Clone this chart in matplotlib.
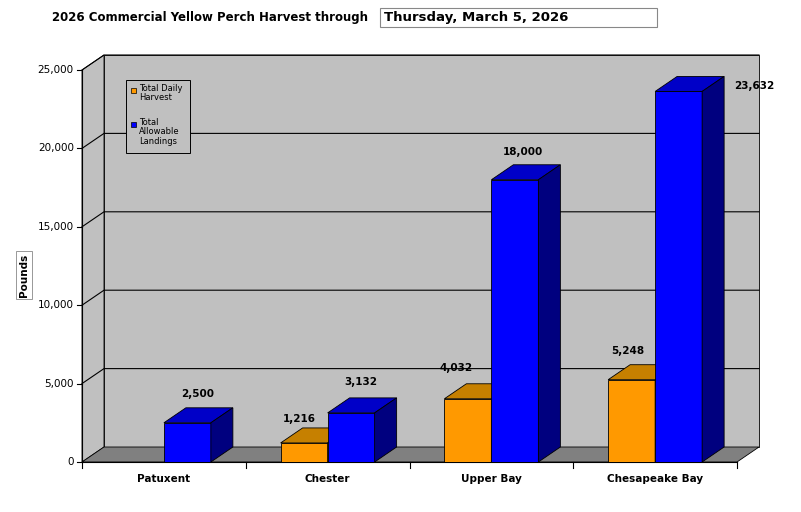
import matplotlib
matplotlib.use("Agg")
import matplotlib.pyplot as plt
from matplotlib.patches import Polygon, Rectangle

categories = ["Patuxent", "Chester", "Upper Bay", "Chesapeake Bay"]
daily_harvest = [0, 1216, 4032, 5248]
allowable = [2500, 3132, 18000, 23632]
yticks = [0, 5000, 10000, 15000, 20000, 25000]
title = "2026 Commercial Yellow Perch Harvest through"
date_text = "Thursday, March 5, 2026"

W, H = 801, 512
fig = plt.figure(figsize=(W/100, H/100), dpi=100)
fig.patch.set_facecolor("white")
ax = fig.add_axes([82/W, (H-462)/H, 655/W, 392/H])
ax.set_xlim(0, 4); ax.set_ylim(0, 25000); ax.axis("off")

PX = 1/163.75
PY = 25000/392
dx = 22*PX
dy = 15*PY
bw = 47*PX

def poly(pts, fc, z, ec="black", lw=0.6):
    ax.add_patch(Polygon(pts, closed=True, fc=fc, ec=ec, lw=lw, zorder=z, clip_on=False))

# walls
poly([(dx, dy), (4+dx, dy), (4+dx, 25000+dy), (dx, 25000+dy)], "#c0c0c0", 0)
poly([(0, 0), (dx, dy), (dx, 25000+dy), (0, 25000)], "#c0c0c0", 0)
for t in yticks[1:]:
    ax.plot([0, dx, 4+dx], [t, t+dy, t+dy], color="black", lw=0.8, zorder=1, clip_on=False)
poly([(0, 0), (4, 0), (4+dx, dy), (dx, dy)], "#808080", 1)
ax.plot([0, 4], [0, 0], color="black", lw=0.8, zorder=1, clip_on=False)
for i in range(5):
    ax.plot([i, i], [0, -400], color="black", lw=0.8, clip_on=False)
ax.plot([0, 0], [0, 25000], color="black", lw=0.8, clip_on=False)
for t in yticks:
    ax.plot([-0.03, 0], [t, t], color="black", lw=0.8, clip_on=False)
    ax.text(-0.05, t, f"{t:,}", ha="right", va="center", fontsize=7.5)

def bar3d(x0, h, front, top, side, z):
    if h <= 0:
        return
    ax.bar(x0, h, width=bw, align="edge", color=front, edgecolor="black", lw=0.6, zorder=z)
    poly([(x0, h), (x0+bw, h), (x0+bw+dx, h+dy), (x0+dx, h+dy)], top, z)
    poly([(x0+bw, 0), (x0+bw+dx, dy), (x0+bw+dx, h+dy), (x0+bw, h)], side, z)

# label offsets in pixels (x from bar centre, y above bar top)
offs_o = [(0, 0), (-5, 24), (-12, 31), (-4, 29)]
offs_b = [(10, 29), (10, 31), (8, 28), (76, 5)]
for i, c in enumerate(categories):
    cx = i + 0.5
    bar3d(cx-bw, daily_harvest[i], "#ff9900", "#c68000", "#a06000", 3+2*i)
    bar3d(cx, allowable[i], "#0000ff", "#0000c8", "#00007f", 4+2*i)
    if daily_harvest[i] > 0:
        ax.text(cx-bw/2+offs_o[i][0]*PX, daily_harvest[i]+offs_o[i][1]*PY, f"{daily_harvest[i]:,}",
                ha="center", va="center", fontsize=7.5, fontweight="bold", zorder=20)
    ax.text(cx+bw/2+offs_b[i][0]*PX, allowable[i]+offs_b[i][1]*PY, f"{allowable[i]:,}",
            ha="center", va="center", fontsize=7.5, fontweight="bold", zorder=20)
    ax.text(cx, -1100, c, ha="center", va="center", fontsize=7.5, fontweight="bold")

# legend
fig.patches.append(Rectangle((126/W, 1-153/H), 64/W, 73/H, transform=fig.transFigure,
                             fc="#c0c0c0", ec="black", lw=0.7, zorder=30))
fig.patches.append(Rectangle((131/W, 1-93/H), 5/W, 5/H, transform=fig.transFigure,
                             fc="#ff9900", ec="black", lw=0.5, zorder=31))
fig.patches.append(Rectangle((131/W, 1-127/H), 5/W, 5/H, transform=fig.transFigure,
                             fc="#0000ff", ec="black", lw=0.5, zorder=31))
fig.text(139/W, 1-84/H, "Total Daily\nHarvest", fontsize=6, va="top", linespacing=1.05, zorder=32)
fig.text(139/W, 1-118/H, "Total\nAllowable\nLandings", fontsize=6, va="top", linespacing=1.05, zorder=32)

fig.text(52/W, 1-18/H, title, fontsize=8.5, fontweight="bold", va="center")
fig.patches.append(Rectangle((380/W, 1-27/H), 277/W, 19/H, transform=fig.transFigure,
                             fc="white", ec="#888888", lw=0.8))
fig.text(384/W, 1-18/H, date_text, fontsize=9.5, fontweight="bold", va="center")
fig.text(24/W, 1-275/H, "Pounds", rotation=90, fontsize=7.5, fontweight="bold", ha="center", va="center",
         bbox=dict(fc="white", ec="#888888", lw=0.6, pad=2))

fig.savefig("out.png", dpi=100)
